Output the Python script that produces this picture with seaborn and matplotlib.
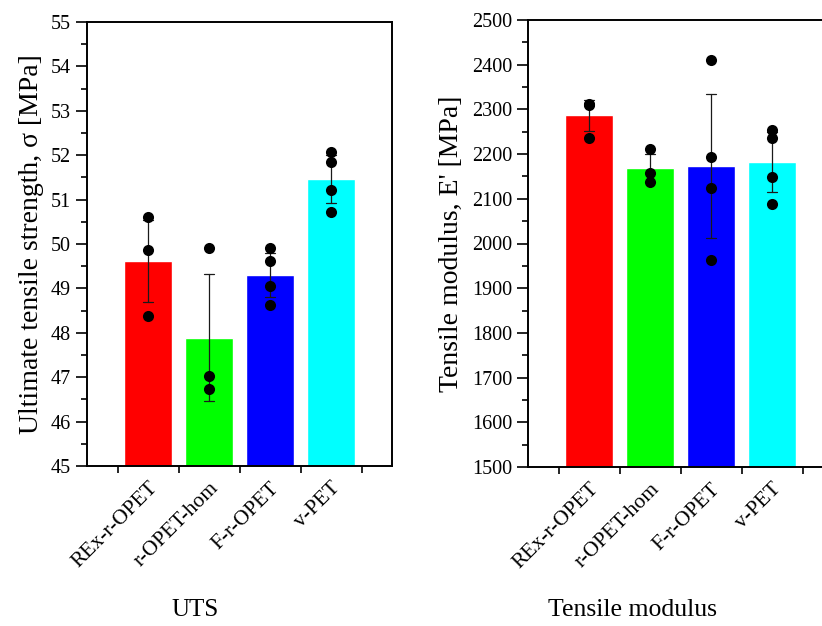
import matplotlib
matplotlib.use("Agg")
import matplotlib.pyplot as plt
import seaborn as sns
import pandas as pd
import numpy as np
from matplotlib.ticker import MultipleLocator, FixedLocator

sns.set_theme(style="white")
plt.rcParams['font.family'] = ['Liberation Serif', 'DejaVu Serif']
plt.rcParams['text.color'] = 'black'
plt.rcParams['axes.labelcolor'] = 'black'
plt.rcParams['xtick.color'] = 'black'
plt.rcParams['ytick.color'] = 'black'

categories = ["REx-r-OPET", "r-OPET-hom", "F-r-OPET", "v-PET"]
colors = ["#FF0000", "#00FF00", "#0000FF", "#00FFFF"]

# individual specimen values
uts_rex = [50.61, 49.87, 48.38]
uts_hom = [49.92, 47.03, 46.73]
uts_f = [49.90, 49.62, 49.05, 48.63]
uts_v = [52.08, 51.85, 51.22, 50.72]

mod_rex = [2313, 2310, 2237]
mod_hom = [2211, 2157, 2138]
mod_f = [2410, 2194, 2125, 1963]
mod_v = [2254, 2237, 2149, 2088]


def long_df(groups):
    rows = []
    for cat, vals in zip(categories, groups):
        for v in vals:
            rows.append({"sample": cat, "value": v})
    return pd.DataFrame(rows)


uts_df = long_df([uts_rex, uts_hom, uts_f, uts_v])
mod_df = long_df([mod_rex, mod_hom, mod_f, mod_v])


def sd_pop(x):
    m = np.mean(x)
    s = np.std(x, ddof=0)
    return (m - s, m + s)


W, H = 822, 626
fig = plt.figure(figsize=(W / 100, H / 100), dpi=100)
ax1 = fig.add_axes([87 / W, (H - 466) / H, 305 / W, 444 / H])
ax2 = fig.add_axes([528 / W, (H - 467) / H, 305 / W, 447 / H])

for ax, df, ylim, major, minor, ylabel, lpad in [
    (ax1, uts_df, (45, 55), 1, 0.5, "Ultimate tensile strength, σ [MPa]", 5),
    (ax2, mod_df, (1500, 2500), 100, 50, "Tensile modulus, E' [MPa]", 6),
]:
    sns.barplot(data=df, x="sample", y="value", hue="sample", palette=colors,
                order=categories, hue_order=categories, legend=False,
                errorbar=sd_pop, capsize=0.15, width=0.8, saturation=1,
                err_kws={"color": "#1a1a1a", "linewidth": 0.9}, ax=ax)
    sns.stripplot(data=df, x="sample", y="value", order=categories,
                  jitter=False, color="black", size=8, zorder=4, ax=ax)
    ax.set_xlim(-1, 4)
    ax.set_ylim(*ylim)
    ax.yaxis.set_major_locator(MultipleLocator(major))
    ax.yaxis.set_minor_locator(MultipleLocator(minor))
    ax.xaxis.set_minor_locator(FixedLocator([-0.5, 0.5, 1.5, 2.5, 3.5]))
    ax.set_xticks(range(len(categories)))
    ax.set_xticklabels(categories, rotation=45, ha="right", va="top",
                       rotation_mode="anchor", fontsize=15.5)
    ax.tick_params(axis="x", which="major", length=0, pad=9)
    ax.tick_params(axis="x", which="minor", length=5, width=1.2,
                   direction="out", bottom=True, color="black")
    ax.tick_params(axis="y", which="major", length=8, width=1.2,
                   direction="out", left=True, labelsize=14.5, color="black")
    ax.tick_params(axis="y", which="minor", length=4, width=1.2,
                   direction="out", left=True, color="black")
    ax.set_xlabel("")
    ax.set_ylabel(ylabel, fontsize=20, labelpad=lpad)
    for sp in ax.spines.values():
        sp.set_color("black")
        sp.set_linewidth(1.4)

fig.text(195 / W, 1 - 610 / H, "UTS", ha="center", va="center", fontsize=18)
fig.text(632 / W, 1 - 610 / H, "Tensile modulus", ha="center", va="center",
         fontsize=18.5)

fig.savefig("out.png", dpi=100)
